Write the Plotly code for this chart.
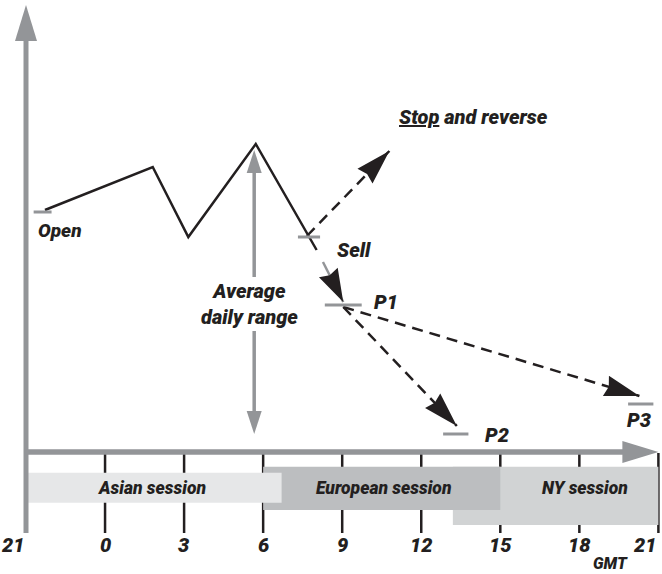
import plotly.graph_objects as go

# ----------------------------
# Data (hours counted from 21:00 GMT, price in arbitrary points)
# ----------------------------
tick_hours = [0, 3, 6, 9, 12, 15, 18, 21, 24]
tick_labels = ['21', '0', '3', '6', '9', '12', '15', '18', '21']

path_hours = [0.72, 4.81, 6.16, 8.72, 11.03]
path_price = [242, 285, 215, 308, 202]

level_names = ['Open', 'Sell', 'P1', 'P2', 'P3']
level_hours = [0.63, 10.74, 12.04, 16.31, 23.33]
level_price = [240, 215, 147, 18, 48]

sessions = ['NY session', 'European session', 'Asian session']
session_start = [16.2, 9, 0]
session_end = [24, 18, 9.7]
session_top = [-14.7, -14.7, -20.7]
session_bottom = [-73, -58, -50.7]
session_label_hour = [21.23, 13.55, 4.77]

# dashed moves: (tail hour, tail price, tip hour, tip price)
stop_move = (10.66, 216, 13.79, 301)
p2_move = (12.04, 145, 16.35, 26)
p3_move = (12.04, 145, 23.28, 56)
sell_move = (11.27, 190, 12.04, 150)

adr_hour = 8.66
adr_top = 302
adr_bottom = 18

# ----------------------------
# Layout constants
# ----------------------------
W, H = 662, 574
SX = 26.35          # px per hour
X0 = -26 / SX
X1 = X0 + W / SX
Y0, Y1 = -122, 452  # 1 px per point

BLACK = '#231f20'
GRAY = '#939598'
BOX_COLORS = ['#d1d3d4', '#bcbec0', '#e6e7e8']
FONT = 'Roboto, Liberation Sans, Arial, sans-serif'


def head(tail_x, tail_y, tip_x, tip_y, length, width, notch=3):
    # triangle arrowhead computed in pixel space, returned in data units
    dx = (tip_x - tail_x) * SX
    dy = (tip_y - tail_y)
    d = (dx ** 2 + dy ** 2) ** 0.5
    ux, uy = dx / d, dy / d
    nx, ny = -uy, ux
    tx, ty = tip_x * SX, tip_y
    bx, by = tx - ux * length, ty - uy * length
    mx, my = tx - ux * (length - notch), ty - uy * (length - notch)
    pts = [(tx, ty),
           (bx + nx * width / 2, by + ny * width / 2),
           (mx, my),
           (bx - nx * width / 2, by - ny * width / 2),
           (tx, ty)]
    return [p[0] / SX for p in pts], [p[1] for p in pts]


fig = go.Figure()


def add_line(xs, ys, color, width, dash='solid'):
    fig.add_trace(go.Scatter(x=xs, y=ys, mode='lines', hoverinfo='skip',
                             line=dict(color=color, width=width, dash=dash)))


def add_fill(xs, ys, color):
    fig.add_trace(go.Scatter(x=xs, y=ys, mode='lines', fill='toself', fillcolor=color,
                             hoverinfo='skip', line=dict(width=0, color=color)))


# tick lines under the session boxes
tx, ty = [], []
for h in tick_hours[1:]:
    tx += [h, h, None]
    ty += [-1, -81, None]
add_line(tx, ty, BLACK, 2.5)

# session boxes
for i in range(len(sessions)):
    a, b = session_start[i], session_end[i]
    t, btm = session_top[i], session_bottom[i]
    add_fill([a, b, b, a, a], [t, t, btm, btm, t], BOX_COLORS[i])

# axes with arrowheads
add_line([0, 0], [-81, 420], GRAY, 5)
hx, hy = head(0, 0, 0, 447, 36, 22, 0)
add_fill(hx, hy, GRAY)
add_line([0, 23], [0, 0], GRAY, 5.5)
hx, hy = head(0, 0, 24, 0, 36, 22, 0)
add_fill(hx, hy, GRAY)

# average daily range arrow
gap = 27
mid = 148
add_line([adr_hour, adr_hour, None, adr_hour, adr_hour],
         [adr_top - 10, mid + gap, None, mid - gap, adr_bottom + 10], GRAY, 3.5)
hx, hy = head(adr_hour, mid, adr_hour, adr_top, 23, 15, 0)
add_fill(hx, hy, GRAY)
hx, hy = head(adr_hour, mid, adr_hour, adr_bottom, 23, 15, 0)
add_fill(hx, hy, GRAY)

# price path
add_line(path_hours, path_price, BLACK, 2.5)

# dashed moves
for mv in [stop_move, p2_move, p3_move]:
    add_line([mv[0], mv[2]], [mv[1], mv[3]], BLACK, 2.5, '11px,7px')
    hx, hy = head(*mv, 35, 21)
    add_fill(hx, hy, BLACK)
add_line([sell_move[0], sell_move[2]], [sell_move[1], sell_move[3]], GRAY, 2.5)
hx, hy = head(*sell_move, 33, 21)
add_fill(hx, hy, BLACK)

# level marks
level_half = [0.34, 0.42, 0.7, 0.48, 0.48]
lx, ly = [], []
for h, p, w in zip(level_hours, level_price, level_half):
    lx += [h - w, h + w, None]
    ly += [p, p, None]
add_line(lx, ly, GRAY, 3)

# ----------------------------
# Text
# ----------------------------
def label(x, y, text, size, xanchor='left'):
    fig.add_annotation(x=x, y=y, text=text, showarrow=False, xanchor=xanchor, yanchor='middle',
                       font=dict(family=FONT, size=size, color=BLACK, weight=900, style='italic'))


for i, (h, t) in enumerate(zip(tick_hours, tick_labels)):
    anchor = 'right' if i in (0, len(tick_hours) - 1) else 'center'
    label(h, -93, t, 20, anchor)
label(22.19, -111, 'GMT', 16, 'center')

for name, hx_ in zip(sessions, session_label_hour):
    label(hx_, -36, name, 17.5, 'center')

label(0.38, 222, 'Open', 19)
label(11.73, 202, 'Sell', 20)
label(13.12, 150, 'P1', 20)
label(17.35, 17, 'P2', 20)
label(23.3, 32, 'P3', 20, 'center')
label(14.07, 335, '<u>Stop</u> and reverse', 20)
label(adr_hour - 0.16, mid, 'Average<br>daily range', 20, 'center')

fig.update_layout(
    width=W, height=H,
    margin=dict(l=0, r=0, t=0, b=0),
    plot_bgcolor='white', paper_bgcolor='white',
    showlegend=False,
    xaxis=dict(range=[X0, X1], visible=False, fixedrange=True),
    yaxis=dict(range=[Y0, Y1], visible=False, fixedrange=True),
)

fig.write_html('out.html', config={'displayModeBar': False},
               post_script="document.body.style.margin='0';")
